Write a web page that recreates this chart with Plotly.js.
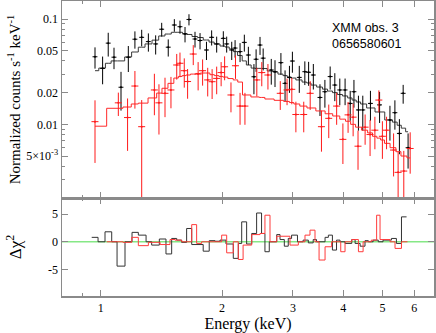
<!DOCTYPE html>
<html>
<head>
<meta charset="utf-8">
<script src="https://cdn.plot.ly/plotly-3.0.1.min.js"></script>
<style>
    body { margin: 0; background: #fff; }
    #chart { width: 436px; height: 333px; }
</style>
</head>
<body>
<div id="chart"></div>
<script>
// Black spectrum (pn): bin centre energy (keV), rate, error, folded model
const blackE = [0.968, 1.011, 1.044, 1.079, 1.123, 1.171, 1.216, 1.264, 1.313, 1.369,
    1.417, 1.471, 1.523, 1.573, 1.619, 1.656, 1.714, 1.764, 1.830, 1.885,
    1.940, 2.015, 2.054, 2.114, 2.155, 2.217, 2.272, 2.325, 2.400, 2.430,
    2.485, 2.530, 2.650, 2.707, 2.800, 2.867, 2.940, 2.990, 3.110, 3.210,
    3.280, 3.370, 3.500, 3.600, 3.710, 3.810, 3.920, 4.040, 4.160, 4.250,
    4.360, 4.470, 4.670, 4.920, 5.220, 5.370, 5.510, 5.630, 5.790];
const blackRate = [0.0438, 0.034, 0.059, 0.0434, 0.0225, 0.0434, 0.0643, 0.067, 0.061, 0.058,
    0.080, 0.054, 0.0877, 0.0845, 0.072, 0.099, 0.0646, 0.0625, 0.0508, 0.067,
    0.058, 0.0655, 0.058, 0.0508, 0.053, 0.049, 0.060, 0.0455, 0.0283, 0.0415,
    0.0566, 0.0425, 0.0328, 0.0316, 0.0385, 0.0245, 0.0279, 0.0399, 0.0279, 0.0316,
    0.0312, 0.0294, 0.018, 0.0204, 0.0284, 0.0236, 0.0212, 0.0212, 0.0158, 0.0204,
    0.0137, 0.0137, 0.0158, 0.0153, 0.011, 0.0129, 0.0082, 0.0197, 0.0060];
const blackErr = [0.010, 0.010, 0.015, 0.010, 0.009, 0.012, 0.012, 0.012, 0.012, 0.012,
    0.012, 0.010, 0.012, 0.012, 0.012, 0.012, 0.011, 0.011, 0.010, 0.011,
    0.010, 0.011, 0.010, 0.010, 0.010, 0.010, 0.011, 0.009, 0.009, 0.010,
    0.011, 0.010, 0.009, 0.009, 0.009, 0.008, 0.008, 0.009, 0.008, 0.008,
    0.008, 0.008, 0.006, 0.006, 0.007, 0.007, 0.006, 0.006, 0.005, 0.006,
    0.005, 0.005, 0.005, 0.005, 0.004, 0.004, 0.003, 0.004, 0.0022];
const blackModel = [0.0323, 0.0342, 0.038, 0.040, 0.040, 0.0436, 0.0486, 0.054, 0.058, 0.063,
    0.069, 0.072, 0.0748, 0.0748, 0.0728, 0.0713, 0.0682, 0.0667, 0.0632, 0.0604,
    0.0579, 0.0554, 0.0542, 0.052, 0.049, 0.045, 0.040, 0.0366, 0.0342, 0.034,
    0.034, 0.0339, 0.0321, 0.0314, 0.030, 0.029, 0.0281, 0.0275, 0.0264, 0.0252,
    0.0247, 0.0236, 0.0226, 0.0216, 0.0207, 0.020, 0.0192, 0.0186, 0.0178, 0.017,
    0.0163, 0.0156, 0.0143, 0.0131, 0.011, 0.0105, 0.0098, 0.0092, 0.0085];

// Red spectrum (MOS)
const redE = [0.968, 1.106, 1.166, 1.216, 1.264, 1.359, 1.395, 1.444, 1.494, 1.544,
    1.573, 1.612, 1.643, 1.697, 1.745, 1.790, 1.843, 1.890, 1.940, 1.990,
    2.030, 2.105, 2.160, 2.217, 2.280, 2.440, 2.510, 2.600, 2.790, 2.900,
    2.980, 3.050, 3.190, 3.310, 3.530, 3.680, 3.850, 3.990, 4.110, 4.230,
    4.350, 4.530, 4.660, 4.790, 4.900, 5.000, 5.120, 5.330, 5.470, 5.650, 5.860];
const redRate = [0.0106, 0.016, 0.0116, 0.0231, 0.0095, 0.0212, 0.016, 0.0197, 0.0212, 0.0366,
    0.038, 0.0323, 0.0255, 0.0465, 0.030, 0.0323, 0.0264, 0.0254, 0.0273, 0.031,
    0.0352, 0.019, 0.036, 0.0149, 0.0149, 0.0264, 0.031, 0.0294, 0.0197, 0.0212,
    0.0215, 0.0124, 0.0124, 0.0197, 0.0095, 0.0114, 0.0149, 0.0072, 0.0123, 0.0117,
    0.0062, 0.0094, 0.0080, 0.0088, 0.017, 0.0077, 0.0088, 0.0057, 0.0035, 0.0036, 0.0059];
const redErr = [0.0063, 0.004, 0.006, 0.009, 0.0075, 0.009, 0.008, 0.008, 0.007, 0.010,
    0.010, 0.010, 0.008, 0.010, 0.009, 0.009, 0.008, 0.008, 0.008, 0.008,
    0.009, 0.006, 0.009, 0.005, 0.005, 0.008, 0.008, 0.008, 0.006, 0.006,
    0.006, 0.004, 0.004, 0.006, 0.004, 0.004, 0.005, 0.003, 0.004, 0.004,
    0.0025, 0.003, 0.003, 0.003, 0.004, 0.003, 0.003, 0.0025, 0.002, 0.002, 0.0025];
const redModel = [0.0096, 0.0142, 0.0146, 0.0156, 0.0159, 0.0178, 0.0198, 0.022, 0.0245, 0.0275,
    0.0285, 0.029, 0.0294, 0.030, 0.0304, 0.0307, 0.0307, 0.0296, 0.029, 0.0285,
    0.0281, 0.0272, 0.0264, 0.0252, 0.019, 0.0182, 0.018, 0.0174, 0.0169, 0.0165,
    0.0161, 0.0156, 0.0149, 0.0143, 0.0134, 0.0126, 0.0120, 0.0112, 0.0107, 0.0100,
    0.0094, 0.0088, 0.0083, 0.0077, 0.0074, 0.0071, 0.0066, 0.0060, 0.0055, 0.0050, 0.0048];

// Residuals: bin edges (keV) and delta chi^2 per bin
const blackResE = [0.950, 0.985, 1.025, 1.065, 1.098, 1.149, 1.196, 1.240, 1.296, 1.338,
    1.398, 1.452, 1.500, 1.544, 1.588, 1.634, 1.682, 1.796, 1.859, 1.921,
    1.977, 2.046, 2.133, 2.195, 2.238, 2.302, 2.370, 2.437, 2.507, 2.556,
    2.620, 2.734, 2.786, 2.855, 2.920, 2.976, 3.078, 3.178, 3.275, 3.367,
    3.432, 3.603, 3.672, 3.758, 3.847, 3.925, 4.039, 4.197, 4.278, 4.403,
    4.527, 4.614, 4.742, 4.883, 5.018, 5.264, 5.417, 5.576, 5.740];
const blackResV = [0.8, 0, 1.8, 0, -4.4, 0, 1.7, 1.2, 0, -0.6,
    0.5, -2.2, 0.6, 0.3, -0.1, 2.4, -0.5, -1.7, 0.2, 0.1,
    0.3, -0.4, -3.0, -0.3, 3.6, -0.4, 1.5, 5.2, 1.5, -1.8,
    0, 1.3, 0.4, -0.8, 0.6, 1.2, 0, 0.3, -0.2, 0.4,
    0, 0.8, 1.2, -1.5, 0.3, 0, -0.3, 0.4, -0.3, -0.8,
    0.2, 0, 0.3, 0, 0.3, 0.6, -0.3, 4.5];
const redResE = [1.035, 1.136, 1.194, 1.240, 1.313, 1.404, 1.486, 1.529, 1.588, 1.682,
    1.730, 1.780, 1.996, 2.054, 2.133, 2.195, 2.256, 2.370, 2.485, 2.556,
    2.631, 2.734, 2.949, 3.093, 3.213, 3.306, 3.402, 3.482, 3.603, 3.741,
    3.941, 4.039, 4.197, 4.360, 4.478, 4.693, 4.838, 4.933, 5.223, 5.374,
    5.576, 5.770];
const redResV = [0, -0.1, 0.8, -0.7, -0.1, -0.5, 0.4, 0.3, 0, 3.1,
    -0.3, 0, 1.2, -2.0, 0, -3.2, -0.6, 1.3, 1.5, 4.8,
    0, 1.0, -0.6, 0, 1.2, 2.1, 0, -3.3, -0.9, 0,
    -1.8, 0, 0.4, -1.8, 0, 0.3, 4.8, 0.4, 0, -1.2, 0];

// Tick labels
const xTicks = [1, 2, 3, 4, 5, 6];
const yTicks = [0.005, 0.01, 0.02, 0.05, 0.1];
const yTickText = ['5\u00d710<sup>-3</sup>', '0.01', '0.02', '0.05', '0.1'];
const yMinor = [0.003, 0.004, 0.006, 0.007, 0.008, 0.009, 0.03, 0.04, 0.06, 0.07, 0.08, 0.09];
const resTicks = [-5, 0, 5];

const PlotlyConfig = { displayModeBar: false, staticPlot: true };
const FrameColor = '#8a8a8a';
const SerifFont = 'Liberation Serif';

// Data points with error crosses
function dataTrace(x, y, err, color, xPercent, yaxis) {
    return {
        x: x, y: y, xaxis: 'x', yaxis: yaxis,
        type: 'scatter', mode: 'markers',
        marker: { color: color, size: 2 },
        error_y: { type: 'data', array: err, color: color, thickness: 1, width: 0 },
        error_x: { type: 'percent', value: xPercent, color: color, thickness: 1, width: 0 },
        hoverinfo: 'none'
    };
}

// Stepped line (model or residuals)
function stepTrace(x, y, color, shape, xaxis, yaxis) {
    return {
        x: x, y: y, xaxis: xaxis, yaxis: yaxis,
        type: 'scatter', mode: 'lines',
        line: { color: color, width: 1, shape: shape },
        hoverinfo: 'none'
    };
}

function xAxis(anchor, labels) {
    return {
        type: 'log', range: [-0.096, 0.827], anchor: anchor,
        showline: true, linecolor: FrameColor, linewidth: 1.5, mirror: 'allticks',
        ticks: 'inside', ticklen: 6, tickcolor: FrameColor,
        tickvals: xTicks, ticktext: xTicks.map(String), showticklabels: labels,
        minor: { tickvals: [0.9], ticks: 'inside', ticklen: 3, tickcolor: FrameColor },
        showgrid: false, zeroline: false, fixedrange: true
    };
}

function drawChart() {
    // Residual lines need a closing point at the last edge
    var bResY = blackResV.concat([blackResV.at(-1)]);
    var rResY = redResV.concat([redResV.at(-1)]);

    var traces = [
        stepTrace(blackE, blackModel, '#3a3a3a', 'hvh', 'x', 'y'),
        dataTrace(blackE, blackRate, blackErr, '#000000', 1.4, 'y'),
        stepTrace(redE, redModel, '#ff2a2a', 'hvh', 'x', 'y'),
        dataTrace(redE, redRate, redErr, '#ff1a1a', 2.0, 'y'),
        stepTrace(blackResE, bResY, '#333333', 'hv', 'x2', 'y2'),
        stepTrace(redResE, rResY, '#ff3b3b', 'hv', 'x2', 'y2')
    ];

    var xaxis2 = xAxis('y2', true);
    xaxis2.title = { text: 'Energy (keV)', font: { size: 16 }, standoff: 4 };

    var layout = {
        width: 436, height: 333,
        margin: { l: 62, r: 2, t: 1, b: 37 },
        paper_bgcolor: '#ffffff', plot_bgcolor: '#ffffff',
        showlegend: false,
        font: { family: SerifFont, size: 12, color: '#000' },
        xaxis: xAxis('y', false),
        xaxis2: xaxis2,
        yaxis: {
            domain: [0.332, 1], type: 'log', range: [-2.70, -0.829], anchor: 'x',
            showline: true, linecolor: FrameColor, linewidth: 1.5, mirror: 'allticks',
            ticks: 'inside', ticklen: 6, tickcolor: FrameColor,
            tickvals: yTicks, ticktext: yTickText,
            minor: { tickvals: yMinor, ticks: 'inside', ticklen: 3, tickcolor: FrameColor },
            title: { text: 'Normalized counts s<sup>-1</sup> keV<sup>-1</sup>', font: { size: 15 }, standoff: 2 },
            showgrid: false, zeroline: false, fixedrange: true
        },
        yaxis2: {
            domain: [0, 0.332], range: [-9.8, 7.9], anchor: 'x2',
            showline: true, linecolor: FrameColor, linewidth: 1.5, mirror: 'allticks',
            ticks: 'inside', ticklen: 6, tickcolor: FrameColor,
            tickvals: resTicks, ticktext: resTicks.map(String),
            title: { text: '\u0394\u03c7<sup>2</sup>', font: { size: 17 }, standoff: 22 },
            showgrid: false, zeroline: false, fixedrange: true
        },
        shapes: [{
            type: 'line', xref: 'paper', yref: 'y2', x0: 0, x1: 1, y0: 0, y1: 0,
            line: { color: '#86e886', width: 1.5 }, layer: 'below'
        }],
        annotations: [{
            xref: 'paper', yref: 'paper', x: 0.72, y: 0.88, xanchor: 'left', yanchor: 'middle',
            align: 'left', text: 'XMM obs. 3<br>0656580601', showarrow: false,
            font: { family: 'Liberation Sans', size: 12.5, color: '#000' }
        }]
    };

    Plotly.newPlot('chart', traces, layout, PlotlyConfig);
}

drawChart();
</script>
</body>
</html>
